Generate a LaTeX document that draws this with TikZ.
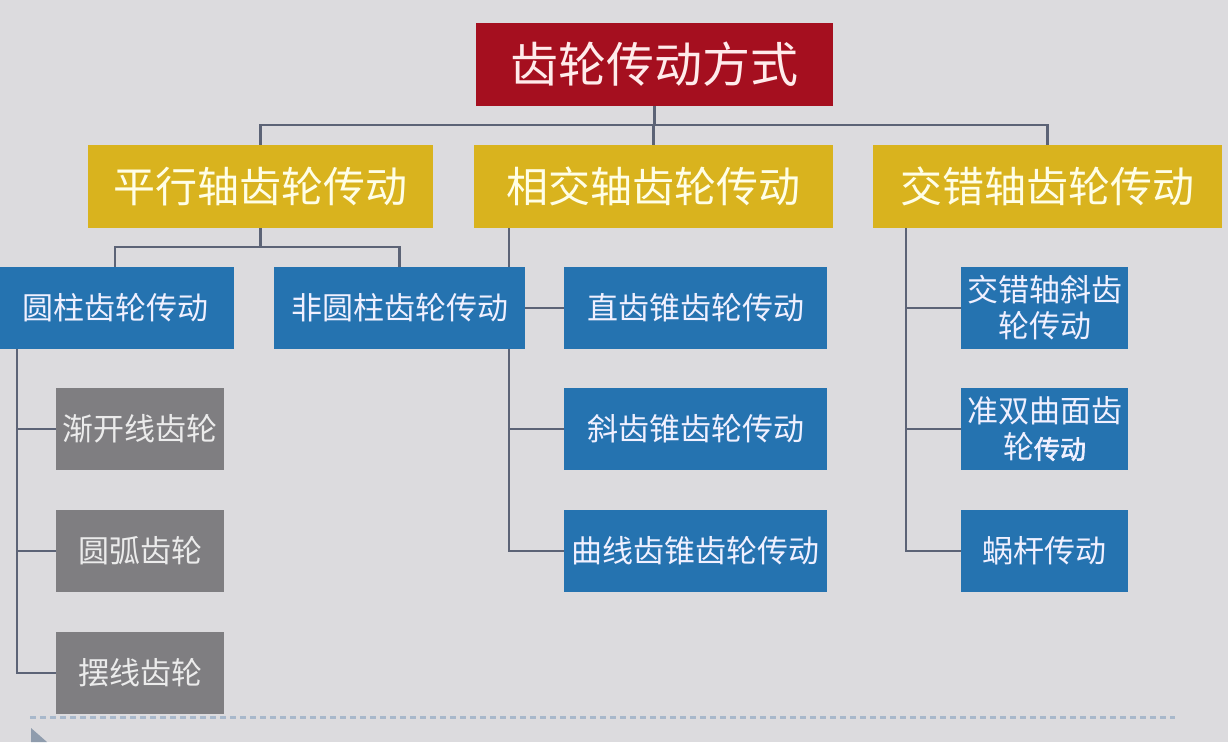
\documentclass[tikz,border=0pt]{standalone}
\usepackage{fontspec}
\setmainfont{Noto Sans CJK SC}
\newfontfamily\cjkbold[FakeBold=2.5]{Noto Sans CJK SC}
\pgfdeclarelayer{background}
\pgfsetlayers{background,main}
\definecolor{bgc}{HTML}{DCDBDE}
\definecolor{redc}{HTML}{A50F1F}
\definecolor{yelc}{HTML}{D9B31E}
\definecolor{bluc}{HTML}{2573B0}
\definecolor{grac}{HTML}{7F7E81}
\definecolor{linc}{HTML}{5C6376}
\definecolor{dotc}{HTML}{A8B8CB}
\tikzset{
  box/.style={rectangle, inner sep=0pt, align=center},
  rootbox/.style={box, fill=redc, text=white!92!red, font=\fontsize{48}{52}\selectfont},
  midbox/.style={box, fill=yelc, text=white!90!yellow, font=\fontsize{42}{46}\selectfont, minimum height=83pt},
  bluebox/.style={box, fill=bluc, text=white!94!blue, font=\fontsize{31}{36}\selectfont, minimum height=82pt},
  graybox/.style={box, fill=grac, text=white!92!black, font=\fontsize{31}{36}\selectfont, minimum height=82pt, minimum width=168pt},
  conn/.style={draw=linc, line width=2.5pt},
}
\begin{document}
\begin{tikzpicture}[x=1pt,y=-1pt]
\useasboundingbox (0,0) rectangle (1228,742);
% nodes
\node[rootbox, minimum width=357pt, minimum height=83pt] (root) at (654.5,64.5) {齿轮传动方式};
\node[midbox, minimum width=345pt] (L1) at (260.5,186.5) {平行轴齿轮传动};
\node[midbox, minimum width=359pt] (L2) at (653.5,186.5) {相交轴齿轮传动};
\node[midbox, minimum width=349pt] (L3) at (1047.5,186.5) {交错轴齿轮传动};
\node[bluebox, minimum width=238pt] (A) at (115,308) {圆柱齿轮传动};
\node[bluebox, minimum width=251pt] (B) at (399.5,308) {非圆柱齿轮传动};
\node[bluebox, minimum width=263pt] (C1) at (695.5,308) {直齿锥齿轮传动};
\node[bluebox, minimum width=263pt] (C2) at (695.5,429) {斜齿锥齿轮传动};
\node[bluebox, minimum width=263pt] (C3) at (695.5,551) {曲线齿锥齿轮传动};
\node[bluebox, minimum width=167pt] (D1) at (1044.5,308) {交错轴斜齿\\轮传动};
\node[bluebox, minimum width=167pt] (D2) at (1044.5,429) {准双曲面齿\\轮{\cjkbold\fontsize{26}{36}\selectfont 传动}};
\node[bluebox, minimum width=167pt] (D3) at (1044.5,551) {蜗杆传动};
\node[graybox] (G1) at (140,429) {渐开线齿轮};
\node[graybox] (G2) at (140,551) {圆弧齿轮};
\node[graybox] (G3) at (140,673) {摆线齿轮};
% helper coordinates
\coordinate (h1) at (0,125);
\coordinate (h2) at (0,247);
\coordinate (s1) at ([xshift=-98pt]A.south);
\coordinate (s2) at ([xshift=-144.5pt]L2.south);
\coordinate (s3) at ([xshift=-141.5pt]L3.south);
\begin{pgfonlayer}{background}
\fill[bgc] (0,0) rectangle (1228,742);
% top level
\draw[conn] (root.south) -- (root.south |- h1);
\draw[conn] (L1.north) -- (L1.north |- h1) -- (L3.north |- h1) -- (L3.north);
\draw[conn] (L2.north) -- (L2.north |- h1);
% parallel axis
\draw[conn] (L1.south) -- (L1.south |- h2);
\draw[conn] (A.north) -- (A.north |- h2) -- (B.north |- h2) -- (B.north);
\draw[conn] (s1) |- (G3.west);
\draw[conn] (s1 |- G1.west) -- (G1.west);
\draw[conn] (s1 |- G2.west) -- (G2.west);
% intersecting axis
\draw[conn] (s2) |- (C3.west);
\draw[conn] (s2 |- C1.west) -- (C1.west);
\draw[conn] (s2 |- C2.west) -- (C2.west);
% crossed axis
\draw[conn] (s3) |- (D3.west);
\draw[conn] (s3 |- D1.west) -- (D1.west);
\draw[conn] (s3 |- D2.west) -- (D2.west);
\end{pgfonlayer}
% footer decoration
\draw[dotc, line width=3pt, dash pattern=on 6pt off 4pt] (30,717) -- (1175,717);
\fill[dotc!85!black] (31,728) -- (47,742) -- (31,742) -- cycle;
\end{tikzpicture}
\end{document}
